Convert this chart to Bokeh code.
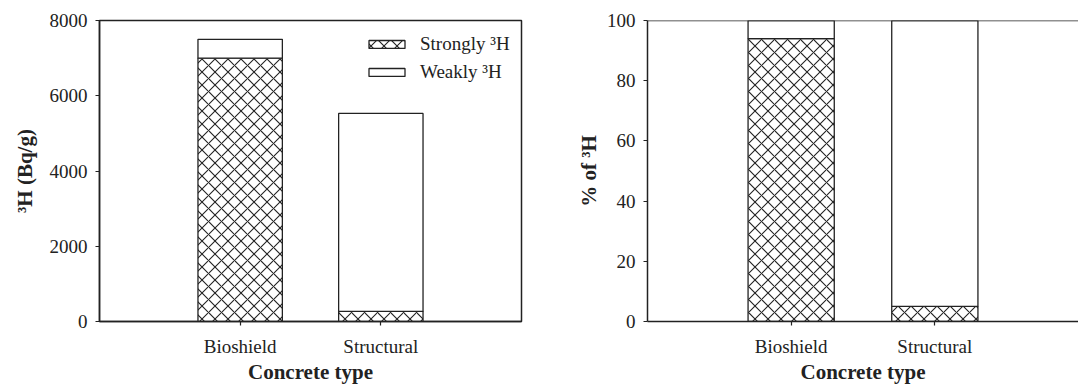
from bokeh.plotting import figure
from bokeh.layouts import row
from bokeh.models import FixedTicker, Legend, LegendItem, Span, Range1d
from bokeh.embed import file_html
from bokeh.resources import INLINE

# ---- data ----
categories = ["Bioshield", "Structural"]
strongly_bq = [7000, 270]
weakly_bq = [500, 5260]
strongly_pct = [94, 5]
weakly_pct = [6, 95]
left_ticks = [0, 2000, 4000, 6000, 8000]
right_ticks = [0, 20, 40, 60, 80, 100]

FONT = "Liberation Serif"
INK = "#222222"
xs = [i + 1 for i in range(len(categories))]

H = 386
TOP = 20
BOTTOM = 65


def make_fig(width, border_left, border_right, ymax, yticks, ylabel, ylabel_standoff):
    p = figure(width=width, height=H, output_backend="svg", toolbar_location=None,
               x_range=Range1d(0, 3), y_range=Range1d(0, ymax),
               min_border_left=border_left, min_border_right=border_right,
               min_border_top=TOP, min_border_bottom=BOTTOM)
    p.grid.visible = False
    p.background_fill_color = "white"
    p.border_fill_color = "white"
    p.outline_line_color = INK
    p.outline_line_width = 1.5
    for ax in (p.xaxis[0], p.yaxis[0]):
        ax.axis_line_color = INK
        ax.axis_line_width = 1.5
        ax.major_tick_line_color = INK
        ax.major_tick_line_width = 1.2
        ax.major_tick_out = 4
        ax.major_tick_in = 0
        ax.minor_tick_line_color = None
        ax.major_label_text_font = FONT
        ax.major_label_text_font_size = "19px"
        ax.major_label_text_color = INK
        ax.axis_label_text_font = FONT
        ax.axis_label_text_font_style = "bold"
        ax.axis_label_text_font_size = "21px"
        ax.axis_label_text_color = INK
    p.xaxis.ticker = FixedTicker(ticks=xs)
    p.xaxis.major_label_overrides = {x: c for x, c in zip(xs, categories)}
    p.xaxis.major_label_standoff = 10
    p.xaxis.axis_label = "Concrete type"
    p.xaxis.axis_label_standoff = 0
    p.yaxis.ticker = FixedTicker(ticks=yticks)
    p.yaxis.major_label_standoff = 8
    p.yaxis.axis_label = ylabel
    p.yaxis.axis_label_standoff = ylabel_standoff
    return p


def add_bars(p, strong, weak):
    tops = [s + w for s, w in zip(strong, weak)]
    r_strong = p.vbar(x=xs, width=0.6, bottom=0, top=strong, fill_color="white",
                      line_color=INK, line_width=1.3,
                      hatch_pattern="diagonal_cross", hatch_color=INK,
                      hatch_weight=1.1, hatch_scale=13)
    r_weak = p.vbar(x=xs, width=0.6, bottom=strong, top=tops, fill_color="white",
                    line_color=INK, line_width=1.3)
    return r_strong, r_weak


# left panel: absolute activity
p1 = make_fig(540, 99, 19, 8000, left_ticks, "³H (Bq/g)", 10)
rs, rw = add_bars(p1, strongly_bq, weakly_bq)
legend = Legend(items=[LegendItem(label="Strongly ³H", renderers=[rs]),
                       LegendItem(label="Weakly ³H", renderers=[rw])],
                location=(265, 238), padding=0, margin=0, spacing=6,
                glyph_width=45, glyph_height=10, label_height=20,
                label_standoff=11, border_line_color=None,
                background_fill_alpha=0, label_text_font=FONT,
                label_text_font_size="19px", label_text_color=INK)
p1.add_layout(legend)

# right panel: percentage
p2 = make_fig(538, 107, 0, 100, right_ticks, "% of ³H", 3)
add_bars(p2, strongly_pct, weakly_pct)
p2.outline_line_color = None
p2.add_layout(Span(location=100, dimension="width", line_color=INK, line_width=1.5))

layout = row(p1, p2)
open("out.html", "w").write(file_html(layout, INLINE))
